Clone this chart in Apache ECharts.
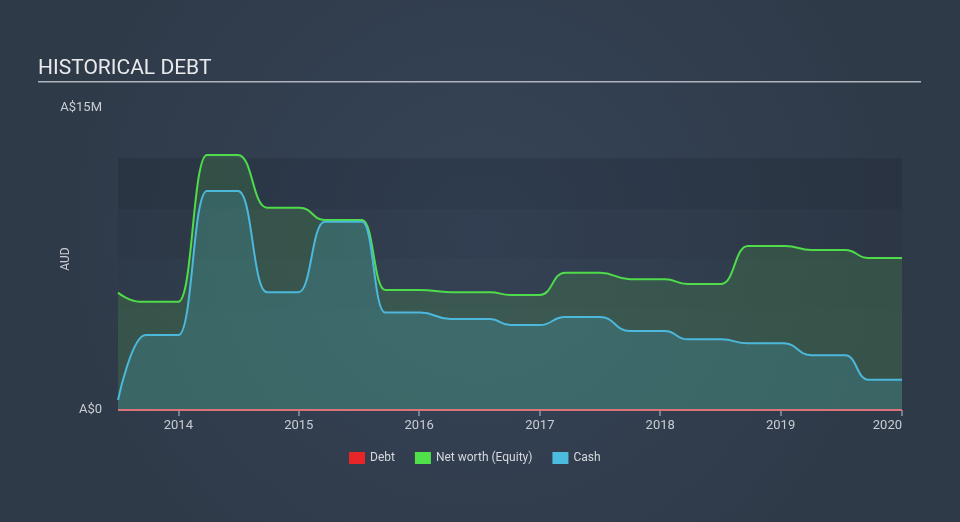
<!DOCTYPE html>
<html>
<head>
<meta charset="utf-8">
<script src="https://cdn.jsdelivr.net/npm/echarts@6/dist/echarts.min.js"></script>
<style>
html,body{margin:0;padding:0;width:960px;height:522px;overflow:hidden;}
#c{width:960px;height:522px;}
</style>
</head>
<body>
<div id="c"></div>
<script>
// ---- Data (values in AUD) ----
const debtDates = ['2013-07-02', '2020-01-04'];
const debtValues = [0, 0];

const equityDates = ['2013-07-02','2013-09-06','2014-01-01','2014-03-29','2014-07-01','2014-09-27','2015-01-04',
  '2015-03-21','2015-07-12','2015-09-20','2016-01-04','2016-04-05','2016-08-03','2016-10-04','2017-01-01',
  '2017-03-18','2017-07-02','2017-10-01','2018-01-15','2018-03-25','2018-07-05','2018-09-24','2019-01-15',
  '2019-04-05','2019-07-16','2019-09-24','2020-01-04'];
const equityValues = [5.83e6,5.38e6,5.38e6,12.67e6,12.67e6,10.05e6,10.05e6,
  9.44e6,9.44e6,5.96e6,5.96e6,5.85e6,5.85e6,5.71e6,5.71e6,
  6.82e6,6.82e6,6.5e6,6.5e6,6.26e6,6.26e6,8.15e6,8.15e6,
  7.95e6,7.95e6,7.55e6,7.55e6];

const cashDates = ['2013-07-02','2013-09-24','2014-01-01','2014-03-29','2014-07-01','2014-09-27','2014-12-31',
  '2015-03-21','2015-07-12','2015-09-20','2016-01-04','2016-04-05','2016-08-03','2016-10-04','2017-01-01',
  '2017-03-18','2017-07-02','2017-10-01','2018-01-15','2018-03-25','2018-07-05','2018-09-24','2019-01-10',
  '2019-04-05','2019-07-16','2019-09-24','2020-01-04'];
const cashValues = [0.5e6,3.72e6,3.72e6,10.88e6,10.88e6,5.85e6,5.85e6,
  9.35e6,9.35e6,4.84e6,4.84e6,4.52e6,4.52e6,4.22e6,4.22e6,
  4.62e6,4.62e6,3.92e6,3.92e6,3.51e6,3.51e6,3.31e6,3.31e6,
  2.72e6,2.72e6,1.5e6,1.5e6];

const yTickLabels = {0: 'A$0', 15000000: 'A$15M'};
const bandEdges = [12.5e6, 10e6, 7.5e6, 5e6];

const zip = (d, v) => d.map((x, i) => [x, v[i]]);

const chart = echarts.init(document.getElementById('c'));
const FONT = 'Roboto, "Noto Sans", sans-serif';
const labelColor = '#c9cdd3';

const bandColors = ['rgba(10,18,28,0.16)', 'rgba(10,18,28,0.08)', 'rgba(10,18,28,0.03)'];
const bands = [];
for (let i = 0; i < bandEdges.length - 1; i++) {
  bands.push([{yAxis: bandEdges[i], itemStyle: {color: bandColors[i]}}, {yAxis: bandEdges[i + 1]}]);
}

chart.setOption({
  backgroundColor: {
    type: 'radial', x: 0.5, y: 0.45, r: 0.8,
    colorStops: [{offset: 0, color: '#364457'}, {offset: 1, color: '#2f3a49'}]
  },
  animation: false,
  textStyle: {fontFamily: FONT},
  title: {
    text: 'HISTORICAL DEBT', left: 38, top: 58, padding: 0,
    textStyle: {color: '#e8eaec', fontSize: 21, fontWeight: 'normal', fontFamily: FONT}
  },
  graphic: [{
    type: 'rect', left: 38, top: 81, shape: {width: 883, height: 1.5},
    style: {fill: '#aeb4bb'}, silent: true
  }],
  legend: {
    left: 344, top: 447, itemWidth: 16, itemHeight: 12, itemGap: 20,
    icon: 'rect',
    textStyle: {color: '#d6d9dd', fontSize: 12, fontFamily: FONT},
    data: ['Debt', 'Net worth (Equity)', 'Cash']
  },
  grid: {left: 118, right: 58, top: 108, bottom: 112, containLabel: false},
  xAxis: {
    type: 'time',
    min: '2013-07-02', max: '2020-01-04',
    minInterval: 365 * 24 * 3600 * 1000,
    maxInterval: 366 * 24 * 3600 * 1000,
    axisLine: {show: false},
    axisTick: {show: true, length: 6, lineStyle: {color: '#8c96a2', width: 1.5}},
    splitLine: {show: false},
    axisLabel: {
      color: labelColor, fontSize: 13, margin: 9, formatter: '{yyyy}',
      showMinLabel: false, showMaxLabel: true, alignMaxLabel: 'right'
    }
  },
  yAxis: {
    type: 'value', min: 0, max: 15000000, interval: 15000000,
    name: 'AUD', nameLocation: 'middle', nameGap: 46, nameMoveOverlap: false,
    nameTextStyle: {color: labelColor, fontSize: 12},
    axisLine: {show: false}, axisTick: {show: false}, splitLine: {show: false},
    axisLabel: {color: labelColor, fontSize: 13, margin: 16,
      formatter: v => yTickLabels[v] !== undefined ? yTickLabels[v] : ''}
  },
  series: [
    {
      name: 'Net worth (Equity)', type: 'line', data: zip(equityDates, equityValues),
      smooth: 0.5, smoothMonotone: 'x', showSymbol: false, symbol: 'none',
      color: '#4fe04c',
      lineStyle: {color: '#4fdc4a', width: 2},
      areaStyle: {color: 'rgba(84,173,76,0.3)'},
      markArea: {silent: true, data: bands},
      z: 2
    },
    {
      name: 'Cash', type: 'line', data: zip(cashDates, cashValues),
      smooth: 0.5, smoothMonotone: 'x', showSymbol: false, symbol: 'none',
      color: '#4bbbe0',
      lineStyle: {color: '#4bb8dc', width: 2},
      areaStyle: {color: 'rgba(75,184,216,0.27)'},
      z: 3
    },
    {
      name: 'Debt', type: 'line', data: zip(debtDates, debtValues),
      showSymbol: false, symbol: 'none',
      color: '#e8262a',
      lineStyle: {color: '#d9757a', width: 2},
      z: 4
    }
  ]
});
</script>
</body>
</html>
